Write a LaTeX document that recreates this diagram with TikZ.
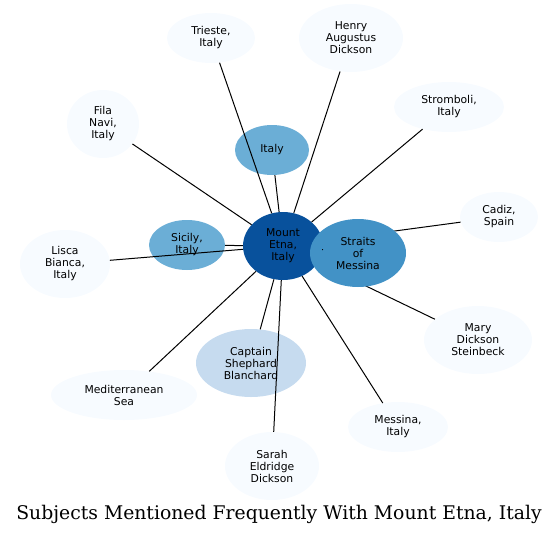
\documentclass[tikz,border=0pt]{standalone}
\usepackage{fontspec}
\newfontfamily\labfont{DejaVu Sans}
\newfontfamily\titlefont{DejaVu Serif}
\usetikzlibrary{shapes.geometric}
\pgfdeclarelayer{front}
\pgfsetlayers{main,front}
\definecolor{cdark}{HTML}{08519C}
\definecolor{cmid}{HTML}{4292C6}
\definecolor{clight}{HTML}{6BAED6}
\definecolor{cpale}{HTML}{C6DBEF}
\definecolor{cwhite}{HTML}{F7FBFF}
\tikzset{
  ent/.style={ellipse, inner sep=0pt, align=center, text=black,
    font=\labfont\fontsize{10.8}{12}\selectfont},
  edge/.style={draw=black, line width=1pt},
}
\begin{document}
\begin{tikzpicture}[x=1pt,y=-1pt]
\useasboundingbox (0,0) rectangle (559,536);
\node[ent, fill=cdark, minimum width=80pt, minimum height=68pt] (etna) at (283,246) {Mount\\Etna,\\Italy};
\begin{pgfonlayer}{front}
\node[ent, fill=cmid, minimum width=96pt, minimum height=68pt] (straits) at (358,253) {Straits\\of\\Messina};
\end{pgfonlayer}
\node[ent, fill=clight, minimum width=74pt, minimum height=50pt] (italy) at (272,150) {Italy};
\node[ent, fill=clight, minimum width=76pt, minimum height=50pt] (sicily) at (187,245) {Sicily,\\Italy};
\node[ent, fill=cpale, minimum width=110pt, minimum height=68pt] (captain) at (251,363) {Captain\\Shephard\\Blanchard};
\node[ent, fill=cwhite, minimum width=88pt, minimum height=50pt] (trieste) at (211,38) {Trieste,\\Italy};
\node[ent, fill=cwhite, minimum width=104pt, minimum height=68pt] (henry) at (351,38) {Henry\\Augustus\\Dickson};
\node[ent, fill=cwhite, minimum width=110pt, minimum height=50pt] (stromboli) at (449,107) {Stromboli,\\Italy};
\node[ent, fill=cwhite, minimum width=72pt, minimum height=68pt] (fila) at (103,124) {Fila\\Navi,\\Italy};
\node[ent, fill=cwhite, minimum width=78pt, minimum height=50pt] (cadiz) at (499,217) {Cadiz,\\Spain};
\node[ent, fill=cwhite, minimum width=90pt, minimum height=68pt] (lisca) at (65,264) {Lisca\\Bianca,\\Italy};
\node[ent, fill=cwhite, minimum width=108pt, minimum height=68pt] (mary) at (478,340) {Mary\\Dickson\\Steinbeck};
\node[ent, fill=cwhite, minimum width=146pt, minimum height=50pt] (med) at (124,395) {Mediterranean\\Sea};
\node[ent, fill=cwhite, minimum width=100pt, minimum height=50pt] (messina) at (398,427) {Messina,\\Italy};
\node[ent, fill=cwhite, minimum width=94pt, minimum height=68pt] (sarah) at (272,466) {Sarah\\Eldridge\\Dickson};
\node[font=\titlefont\fontsize{18.8}{22}\selectfont, anchor=base] (title) at (279,519) {Subjects Mentioned Frequently With Mount Etna, Italy};
\foreach \t in {italy,sicily,captain,trieste,henry,stromboli,fila,lisca,med,messina,sarah,cadiz,mary}
  \draw[edge] (etna) -- (\t);
\begin{pgfonlayer}{front}
\draw[edge, shorten >=12pt] (etna) -- (straits);
\end{pgfonlayer}
\end{tikzpicture}
\end{document}
